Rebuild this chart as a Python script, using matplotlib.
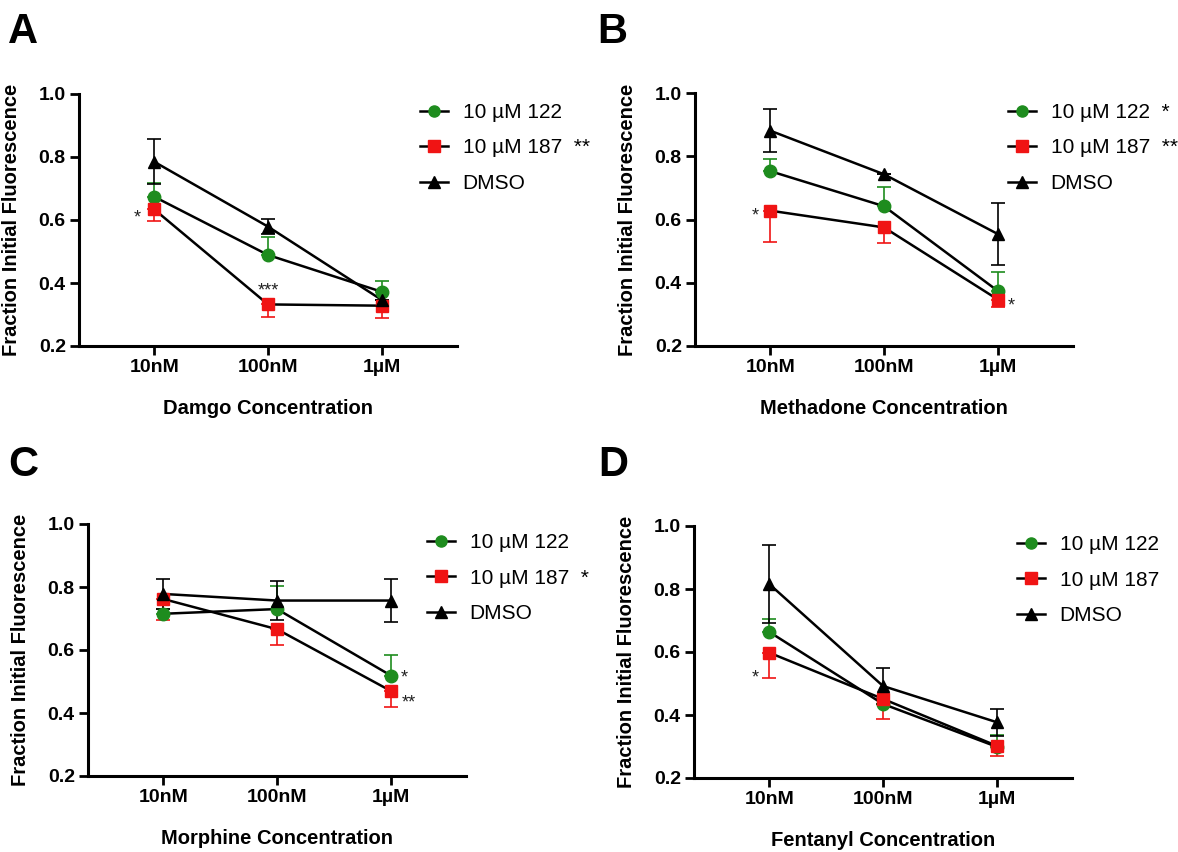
import numpy as np
import matplotlib
matplotlib.use("Agg")
import matplotlib.pyplot as plt

plt.rcParams['font.family'] = ['Liberation Sans', 'DejaVu Sans']

doses = ["10nM", "100nM", "1\u00b5M"]
series_names = ["10 \u00b5M 122", "10 \u00b5M 187", "DMSO"]
colors = ["#1e8c1e", "#f01414", "black"]
markers = ["o", "s", "^"]

# panel A - Damgo
damgo_122 = [0.674, 0.489, 0.372]
damgo_122_err = [0.044, 0.056, 0.035]
damgo_187 = [0.634, 0.332, 0.328]
damgo_187_err = [0.038, 0.041, 0.038]
damgo_dmso = [0.785, 0.579, 0.346]
damgo_dmso_err = [0.072, 0.024, 0.0]

# panel B - Methadone
meth_122 = [0.753, 0.642, 0.374]
meth_122_err = [0.038, 0.060, 0.059]
meth_187 = [0.628, 0.575, 0.347]
meth_187_err = [0.099, 0.049, 0.023]
meth_dmso = [0.881, 0.743, 0.554]
meth_dmso_err = [0.068, 0.0, 0.097]

# panel C - Morphine
morph_122 = [0.715, 0.730, 0.519]
morph_122_err = [0.015, 0.074, 0.066]
morph_187 = [0.762, 0.666, 0.470]
morph_187_err = [0.068, 0.050, 0.050]
morph_dmso = [0.778, 0.757, 0.757]
morph_dmso_err = [0.047, 0.061, 0.068]

# panel D - Fentanyl
fent_122 = [0.664, 0.435, 0.299]
fent_122_err = [0.040, 0.0, 0.037]
fent_187 = [0.598, 0.451, 0.302]
fent_187_err = [0.081, 0.065, 0.032]
fent_dmso = [0.816, 0.492, 0.377]
fent_dmso_err = [0.124, 0.056, 0.043]

# error bar direction: green up, red down, black both
err_dirs = ["up", "down", "both"]

panels = [
    ("A", "Damgo Concentration", [damgo_122, damgo_187, damgo_dmso],
     [damgo_122_err, damgo_187_err, damgo_dmso_err],
     ["", "  **", ""],
     [(1, 0, "*", -12, -6), (1, 1, "***", 0, 10)]),
    ("B", "Methadone Concentration", [meth_122, meth_187, meth_dmso],
     [meth_122_err, meth_187_err, meth_dmso_err],
     ["  *", "  **", ""],
     [(1, 0, "*", -11, -4), (1, 2, "*", 10, -5)]),
    ("C", "Morphine Concentration", [morph_122, morph_187, morph_dmso],
     [morph_122_err, morph_187_err, morph_dmso_err],
     ["", "  *", ""],
     [(0, 2, "*", 10, -2), (1, 2, "**", 13, -9)]),
    ("D", "Fentanyl Concentration", [fent_122, fent_187, fent_dmso],
     [fent_122_err, fent_187_err, fent_dmso_err],
     ["", "", ""],
     [(1, 0, "*", -10, -18)]),
]

W, H = 1178, 852
# axes boxes in pixels: left, top(y=1.0), bottom(y=0.2)
boxes = [(79, 94, 346), (695, 93, 346), (88, 524, 776), (694, 526, 778)]
ax_w = 378
letter_pos = [(8, 43), (597, 43), (8, 476), (598, 476)]
legend_pos = [(420, 148), (1008, 148), (427, 578), (1017, 580)]

fig = plt.figure(figsize=(W / 100, H / 100), dpi=100)

x = np.arange(len(doses))
for i, (letter, xlabel, vals, errs, suffix, stars) in enumerate(panels):
    left, top, bottom = boxes[i]
    ax = fig.add_axes([left / W, 1 - bottom / H, ax_w / W, (bottom - top) / H])
    handles = []
    for s in range(3):
        y = np.array(vals[s])
        e = np.array(errs[s])
        if err_dirs[s] == "up":
            yerr = [np.zeros_like(e), e]
        elif err_dirs[s] == "down":
            yerr = [e, np.zeros_like(e)]
        else:
            yerr = [e, e]
        ax.errorbar(x, y, yerr=yerr, fmt="none", ecolor=colors[s],
                    elinewidth=1.2, capsize=5, capthick=1.2, zorder=2)
        ax.plot(x, y, color="black", lw=1.8, zorder=3)
        ax.plot(x, y, ls="none", marker=markers[s], color=colors[s],
                markersize=9, zorder=4)
        h, = ax.plot([], [], color="black", lw=1.8, marker=markers[s],
                     markerfacecolor=colors[s], markeredgecolor=colors[s],
                     markersize=8)
        handles.append(h)

    for s, k, txt, dx, dy in stars:
        ax.annotate(txt, (x[k], vals[s][k]), xytext=(dx, dy),
                    textcoords="offset points", ha="center", va="center",
                    fontsize=13, color="#222222")

    ax.set_xlim(-0.66, 2.66)
    ax.set_ylim(0.2, 1.0)
    ax.set_yticks([0.2, 0.4, 0.6, 0.8, 1.0])
    ax.set_yticklabels(["0.2", "0.4", "0.6", "0.8", "1.0"])
    ax.set_xticks(x)
    ax.set_xticklabels(doses)
    for sp in ["top", "right"]:
        ax.spines[sp].set_visible(False)
    for sp in ["left", "bottom"]:
        ax.spines[sp].set_linewidth(2.2)
    ax.tick_params(width=2.0, length=6.5, labelsize=14, pad=3)
    for lab in ax.get_xticklabels() + ax.get_yticklabels():
        lab.set_fontweight("bold")
    ax.set_xlabel(xlabel, fontsize=14.5, fontweight="bold")
    ax.xaxis.set_label_coords(0.5, -0.21)
    ax.set_ylabel("Fraction Initial Fluorescence", fontsize=14.5, fontweight="bold")
    ax.yaxis.set_label_coords(-58 / ax_w, 0.5)

    lx, ly = legend_pos[i]
    ax.legend(handles, [n + sfx for n, sfx in zip(series_names, suffix)],
              loc="center left", bbox_to_anchor=(lx / W, 1 - ly / H),
              bbox_transform=fig.transFigure, frameon=False, fontsize=15,
              handlelength=1.35, handletextpad=0.7, labelspacing=0.8,
              borderpad=0, borderaxespad=0)

    tx, ty = letter_pos[i]
    fig.text(tx / W, 1 - ty / H, letter, fontsize=30, fontweight="bold",
             va="baseline", ha="left")

fig.savefig("out.png", dpi=100)
